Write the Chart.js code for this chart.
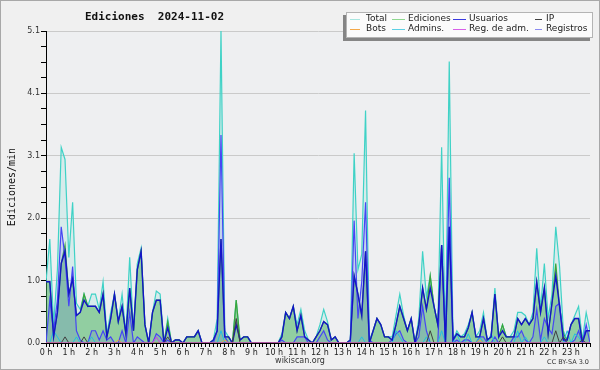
<!DOCTYPE html>
<html>
<head>
<meta charset="utf-8">
<script src="https://cdn.jsdelivr.net/npm/chart.js@4.4.1/dist/chart.umd.min.js"></script>
<style>
  html, body { margin: 0; padding: 0; background: #f0f0f0; }
  canvas { display: block; }
</style>
</head>
<body>
<canvas id="grafico" width="600" height="370"></canvas>
<script>
// ========== DATOS (ediciones/min, tramos de 10 min, una línea por hora) ==========

const horas = [];
for (let h = 0; h < 24; h++) horas.push(h + " h");

const etiquetasY = ["0.0", "1.0", "2.0", "3.1", "4.1", "5.1"];

const total = [
  1.0, 1.7, 0.3, 1.2, 3.2, 3.0,
  1.4, 2.3, 0.65, 0.55, 0.8, 0.6,
  0.8, 0.8, 0.55, 1.0, 0.15, 0.5,
  0.8, 0.35, 0.8, 0.15, 1.4, 0.2,
  1.3, 1.55, 0.3, 0, 0.5, 0.85,
  0.8, 0, 0.4, 0, 0.05, 0.05,
  0, 0.1, 0.1, 0.1, 0.2, 0,
  0, 0, 0.05, 0.4, 5.1, 0.2,
  0.1, 0, 0.7, 0.05, 0.1, 0.1,
  0, 0, 0, 0, 0, 0,
  0, 0, 0.15, 0.5, 0.4, 0.6,
  0.3, 0.55, 0.2, 0.05, 0, 0.1,
  0.3, 0.55, 0.35, 0.05, 0.1, 0,
  0, 0, 0.05, 3.1, 1.2, 1.45,
  3.8, 0.05, 0.2, 0.4, 0.3, 0.1,
  0.1, 0.1, 0.45, 0.8, 0.45, 0.2,
  0.4, 0, 0.4, 1.5, 0.75, 1.1,
  0.6, 0.3, 3.2, 0, 4.6, 0.05,
  0.2, 0.1, 0.15, 0.3, 0.5, 0.1,
  0.2, 0.5, 0.05, 0.1, 0.9, 0.1,
  0.3, 0.1, 0.1, 0.2, 0.5, 0.5,
  0.45, 0.3, 0.5, 1.55, 0.55, 1.3,
  0.4, 0.8, 1.9, 1.25, 0.2, 0.05,
  0.3, 0.45, 0.6, 0.05, 0.5, 0.2
];

const ediciones = [
  1.0, 1.0, 0.1, 0.5, 1.3, 1.6,
  0.8, 1.05, 0.45, 0.5, 0.8, 0.6,
  0.6, 0.6, 0.5, 0.8, 0.1, 0.4,
  0.8, 0.35, 0.6, 0.15, 0.9, 0.2,
  1.2, 1.5, 0.3, 0, 0.5, 0.7,
  0.7, 0, 0.35, 0, 0.05, 0.05,
  0, 0.1, 0.1, 0.1, 0.2, 0,
  0, 0, 0.05, 0.2, 1.7, 0.1,
  0.1, 0, 0.7, 0.05, 0.1, 0.1,
  0, 0, 0, 0, 0, 0,
  0, 0, 0.1, 0.5, 0.4, 0.6,
  0.2, 0.45, 0.1, 0.05, 0, 0.1,
  0.2, 0.35, 0.3, 0.05, 0.1, 0,
  0, 0, 0.05, 1.1, 0.8, 0.45,
  1.5, 0, 0.2, 0.4, 0.3, 0.1,
  0.1, 0.05, 0.3, 0.6, 0.4, 0.2,
  0.4, 0, 0.3, 0.9, 0.55, 1.1,
  0.6, 0.3, 1.6, 0, 1.9, 0.05,
  0.15, 0.1, 0.1, 0.25, 0.5, 0.1,
  0.1, 0.4, 0.05, 0.1, 0.8, 0.1,
  0.3, 0.1, 0.1, 0.1, 0.4, 0.3,
  0.4, 0.3, 0.4, 1.0, 0.5, 0.9,
  0.15, 0.65, 1.3, 0.6, 0.15, 0.05,
  0.3, 0.4, 0.4, 0.05, 0.2, 0.2
];

const usuarios = [
  1.0, 1.0, 0.1, 0.5, 1.3, 1.5,
  0.8, 1.05, 0.45, 0.5, 0.7, 0.6,
  0.6, 0.6, 0.5, 0.8, 0.1, 0.4,
  0.8, 0.35, 0.6, 0.15, 0.9, 0.2,
  1.2, 1.5, 0.3, 0, 0.5, 0.7,
  0.7, 0, 0.25, 0, 0.05, 0.05,
  0, 0.1, 0.1, 0.1, 0.2, 0,
  0, 0, 0.05, 0.2, 1.7, 0.1,
  0.1, 0, 0.3, 0.05, 0.1, 0.1,
  0, 0, 0, 0, 0, 0,
  0, 0, 0.1, 0.5, 0.4, 0.6,
  0.2, 0.45, 0.1, 0.05, 0, 0.1,
  0.2, 0.35, 0.3, 0.05, 0.1, 0,
  0, 0, 0.05, 1.1, 0.8, 0.45,
  1.5, 0, 0.2, 0.4, 0.3, 0.1,
  0.1, 0.05, 0.3, 0.6, 0.4, 0.2,
  0.4, 0, 0.3, 0.9, 0.55, 0.9,
  0.6, 0.3, 1.6, 0, 1.9, 0.05,
  0.15, 0.1, 0.1, 0.25, 0.5, 0.1,
  0.1, 0.4, 0.05, 0.1, 0.8, 0.1,
  0.2, 0.1, 0.1, 0.1, 0.4, 0.3,
  0.4, 0.3, 0.4, 1.0, 0.5, 0.9,
  0.15, 0.65, 1.1, 0.6, 0.05, 0.05,
  0.3, 0.4, 0.4, 0, 0.2, 0.2
];

const ip = [
  0, 0, 0, 0, 0, 0.1,
  0, 0, 0, 0, 0.1, 0,
  0, 0, 0, 0, 0, 0,
  0, 0, 0, 0, 0, 0,
  0, 0, 0, 0, 0, 0,
  0, 0, 0.1, 0, 0, 0,
  0, 0, 0, 0, 0, 0,
  0, 0, 0, 0, 0, 0,
  0, 0, 0.4, 0, 0, 0,
  0, 0, 0, 0, 0, 0,
  0, 0, 0, 0, 0, 0,
  0, 0, 0, 0, 0, 0,
  0, 0, 0, 0, 0, 0,
  0, 0, 0, 0, 0, 0,
  0, 0, 0, 0, 0, 0,
  0, 0, 0, 0, 0, 0,
  0, 0, 0, 0, 0, 0.2,
  0, 0, 0, 0, 0, 0,
  0, 0, 0, 0, 0, 0,
  0, 0, 0, 0, 0, 0,
  0.1, 0, 0, 0, 0, 0,
  0, 0, 0, 0, 0, 0,
  0, 0, 0.2, 0, 0.1, 0,
  0, 0, 0, 0.05, 0, 0
];

const bots = [
  0, 0, 0, 0, 0, 0,
  0, 0, 0, 0, 0, 0,
  0, 0, 0, 0, 0, 0,
  0, 0.05, 0, 0, 0, 0,
  0, 0, 0, 0, 0, 0,
  0, 0, 0, 0, 0, 0,
  0, 0, 0, 0, 0, 0,
  0, 0, 0, 0, 0, 0.05,
  0, 0, 0, 0, 0, 0,
  0, 0, 0, 0, 0, 0,
  0, 0, 0, 0, 0, 0,
  0, 0, 0, 0, 0, 0,
  0, 0, 0, 0, 0, 0,
  0, 0, 0, 0, 0, 0,
  0, 0, 0, 0, 0, 0,
  0, 0, 0, 0, 0, 0,
  0, 0, 0, 0, 0, 0,
  0, 0, 0, 0, 0, 0,
  0, 0, 0, 0, 0, 0,
  0.05, 0, 0, 0, 0, 0,
  0, 0, 0, 0, 0, 0,
  0, 0, 0, 0, 0, 0,
  0, 0, 0, 0, 0, 0,
  0, 0, 0, 0, 0, 0
];

const admins = [
  0, 0, 0.2, 0.1, 0, 0,
  0, 0, 0.1, 0, 0, 0,
  0.1, 0, 0, 0, 0, 0,
  0, 0, 0, 0, 0, 0,
  0, 0, 0, 0, 0, 0,
  0, 0, 0, 0, 0, 0,
  0, 0, 0, 0, 0, 0,
  0, 0, 0, 0, 0.2, 0,
  0, 0, 0, 0, 0, 0,
  0, 0, 0, 0, 0, 0,
  0, 0, 0, 0, 0, 0,
  0, 0, 0, 0, 0, 0,
  0, 0, 0, 0, 0, 0,
  0, 0, 0, 0, 0, 0.1,
  0, 0, 0, 0, 0, 0,
  0, 0, 0.2, 0.1, 0, 0,
  0, 0, 0, 0, 0.1, 0,
  0, 0, 0.2, 0, 0, 0,
  0.15, 0, 0, 0.15, 0, 0,
  0.1, 0, 0, 0.15, 0, 0,
  0, 0, 0, 0, 0.2, 0,
  0.1, 0, 0, 0, 0, 0.1,
  0, 0, 0, 0, 0, 0.2,
  0, 0.15, 0.1, 0, 0, 0
];

const regAdm = [
  0, 0, 0, 0, 0, 0,
  0, 0, 0, 0, 0, 0,
  0, 0, 0, 0, 0, 0,
  0, 0, 0, 0, 0, 0,
  0, 0, 0, 0, 0, 0.1,
  0, 0, 0, 0, 0, 0,
  0, 0, 0, 0, 0, 0,
  0, 0, 0, 0, 0, 0,
  0, 0, 0, 0, 0, 0,
  0, 0, 0, 0, 0, 0,
  0, 0, 0, 0, 0, 0,
  0, 0, 0, 0, 0, 0,
  0, 0, 0, 0, 0, 0,
  0, 0, 0, 0, 0, 0,
  0, 0, 0, 0, 0, 0,
  0, 0, 0, 0, 0, 0,
  0, 0, 0, 0, 0, 0,
  0, 0, 0, 0, 0, 0,
  0, 0, 0, 0, 0, 0,
  0, 0, 0, 0, 0, 0,
  0, 0, 0, 0, 0, 0,
  0, 0, 0, 0, 0, 0,
  0, 0, 0, 0, 0, 0,
  0, 0, 0, 0, 0, 0
];

const registros = [
  0, 0.7, 0.2, 0.7, 1.9, 1.4,
  0.6, 1.25, 0.2, 0.05, 0, 0,
  0.2, 0.2, 0.05, 0.2, 0.05, 0.1,
  0, 0, 0.2, 0, 0.5, 0,
  0.1, 0.05, 0, 0, 0, 0.15,
  0.1, 0, 0.05, 0, 0, 0,
  0, 0, 0, 0, 0, 0,
  0, 0, 0, 0.2, 3.4, 0.1,
  0, 0, 0, 0, 0, 0,
  0, 0, 0, 0, 0, 0,
  0, 0, 0.05, 0, 0, 0,
  0.1, 0.1, 0.1, 0, 0, 0,
  0.1, 0.2, 0.05, 0, 0, 0,
  0, 0, 0, 2.0, 0.4, 1.0,
  2.3, 0.05, 0, 0, 0, 0,
  0, 0.05, 0.15, 0.2, 0.05, 0,
  0, 0, 0.1, 0.6, 0.2, 0,
  0, 0, 1.6, 0, 2.7, 0,
  0.05, 0, 0.05, 0.05, 0, 0,
  0.1, 0.1, 0, 0, 0.1, 0,
  0, 0, 0, 0.1, 0.1, 0.2,
  0.05, 0, 0.1, 0.55, 0.05, 0.4,
  0.25, 0.15, 0.6, 0.65, 0.05, 0,
  0, 0.05, 0.2, 0, 0.3, 0
];

// ========== SERIES ==========

const FUENTE = "DejaVu Sans";
const MONO = "DejaVu Sans Mono";

function puntos(arr) {
  return arr.map((v, i) => ({ x: i, y: v }));
}

// orden: cuanto mayor, antes se dibuja
const series = [
  { label: "Total", data: total, color: "#3fd2c6", fondo: "rgba(64,208,200,0.13)", leyenda: "#a8e6e0", orden: 10, ancho: 1.2 },
  { label: "Ediciones", data: ediciones, color: "#3aa53a", fondo: "rgba(60,170,70,0.45)", leyenda: "#8fd890", orden: 9, ancho: 1.2 },
  { label: "Usuarios", data: usuarios, color: "#1414c8", fondo: null, leyenda: "#3a3ae0", orden: 3, ancho: 1.4 },
  { label: "IP", data: ip, color: "#404040", fondo: null, leyenda: "#404040", orden: 2, ancho: 1 },
  { label: "Bots", data: bots, color: "#f0a040", fondo: null, leyenda: "#f4a848", orden: 1, ancho: 1 },
  { label: "Admins.", data: admins, color: "#22c0e0", fondo: null, leyenda: "#5cd0e4", orden: 5, ancho: 1 },
  { label: "Reg. de adm.", data: regAdm, color: "#d040e0", fondo: null, leyenda: "#d860e8", orden: 0, ancho: 1 },
  { label: "Registros", data: registros, color: "#4646f4", fondo: "rgba(70,70,240,0.14)", leyenda: "#8a8af0", orden: 8, ancho: 1.2 }
];

const datasets = series.map(s => ({
  label: s.label,
  data: puntos(s.data),
  borderColor: s.color,
  backgroundColor: s.fondo || "transparent",
  fill: s.fondo ? "origin" : false,
  borderWidth: s.ancho,
  pointRadius: 0,
  tension: 0,
  order: s.orden
}));

// ========== PLUGINS DE DIBUJO ==========

const fondoPlugin = {
  id: "fondo",
  beforeDraw(chart) {
    const ctx = chart.ctx, a = chart.chartArea;
    ctx.save();
    ctx.fillStyle = "#f0f0f0";
    ctx.fillRect(0, 0, chart.width, chart.height);
    ctx.fillStyle = "#eeeff1";
    ctx.fillRect(a.left, a.top, a.right - a.left, a.bottom - a.top);
    ctx.restore();
  },
  afterDraw(chart) {
    const ctx = chart.ctx;
    ctx.save();
    // borde exterior
    ctx.strokeStyle = "#a8a8a8";
    ctx.lineWidth = 1;
    ctx.strokeRect(0.5, 0.5, chart.width - 1, chart.height - 1);

    // titulo
    ctx.fillStyle = "#111";
    ctx.font = "bold 11px '" + MONO + "'";
    ctx.textBaseline = "middle";
    ctx.textAlign = "left";
    ctx.fillText("Ediciones  2024-11-02", 85, 17);

    // pie
    ctx.fillStyle = "#333";
    ctx.font = "8px '" + FUENTE + "'";
    ctx.textAlign = "center";
    ctx.fillText("wikiscan.org", 300, 361);
    ctx.font = "6.5px '" + FUENTE + "'";
    ctx.textAlign = "right";
    ctx.fillText("CC BY-SA 3.0", 589, 362);

    // leyenda con sombra
    const bx = 346, by = 12, bw = 247, bh = 26;
    ctx.fillStyle = "#858585";
    ctx.fillRect(bx - 3, by + 3, bw, bh);
    ctx.fillStyle = "#fbfbfb";
    ctx.fillRect(bx, by, bw, bh);
    ctx.strokeStyle = "#b4b4b4";
    ctx.strokeRect(bx + 0.5, by + 0.5, bw - 1, bh - 1);

    const columnas = [350, 392, 453, 535];
    const largos = [10, 13, 13, 7];
    const textos = [366, 408, 469, 546];
    const filas = [19, 29];
    ctx.font = "9px '" + FUENTE + "'";
    ctx.textAlign = "left";
    ctx.textBaseline = "middle";
    series.forEach((s, k) => {
      const c = k % 4, f = Math.floor(k / 4);
      const y = filas[f];
      ctx.strokeStyle = s.leyenda;
      ctx.lineWidth = 1;
      ctx.beginPath();
      ctx.moveTo(columnas[c], y + 0.5);
      ctx.lineTo(columnas[c] + largos[c], y + 0.5);
      ctx.stroke();
      ctx.fillStyle = "#222";
      ctx.fillText(s.label, textos[c], y);
    });
    ctx.restore();
  }
};

// ========== GRAFICO ==========

const ctx = document.getElementById("grafico").getContext("2d");
new Chart(ctx, {
  type: "line",
  data: { datasets: datasets },
  options: {
    responsive: false,
    animation: false,
    layout: { padding: { top: 31, right: 10, left: 0, bottom: 0 } },
    plugins: {
      legend: { display: false },
      tooltip: { enabled: false },
      title: { display: false }
    },
    scales: {
      x: {
        type: "linear",
        min: 0,
        max: 143,
        afterBuildTicks: s => { s.ticks = Array.from({ length: 144 }, (_, i) => ({ value: i })); },
        afterFit: s => { s.height = 27; },
        ticks: {
          autoSkip: false,
          maxRotation: 0,
          padding: 1,
          color: "#222",
          font: { family: FUENTE, size: 8 },
          callback: v => (v % 6 === 0 ? horas[v / 6] : "")
        },
        grid: { drawOnChartArea: false, tickLength: 4, tickColor: "#000", tickWidth: 1 },
        border: { color: "#000", width: 1 }
      },
      y: {
        min: 0,
        max: 5.1,
        afterBuildTicks: s => { s.ticks = Array.from({ length: 21 }, (_, k) => ({ value: k * 0.255 })); },
        afterFit: s => { s.width = 46; },
        ticks: {
          autoSkip: false,
          padding: 1,
          color: "#333",
          font: { family: FUENTE, size: 8 },
          callback: (v, i) => (i % 4 === 0 ? etiquetasY[i / 4] : "")
        },
        grid: {
          color: c => (c.index % 4 === 0 && c.index > 0 ? "#cacaca" : "rgba(0,0,0,0)"),
          tickColor: "#000",
          tickLength: 5
        },
        border: { color: "#000", width: 1 },
        title: {
          display: true,
          text: "Ediciones/min",
          color: "#111",
          font: { family: MONO, size: 10 },
          padding: { top: 6, bottom: 0 }
        }
      }
    }
  },
  plugins: [fondoPlugin]
});
</script>
</body>
</html>
